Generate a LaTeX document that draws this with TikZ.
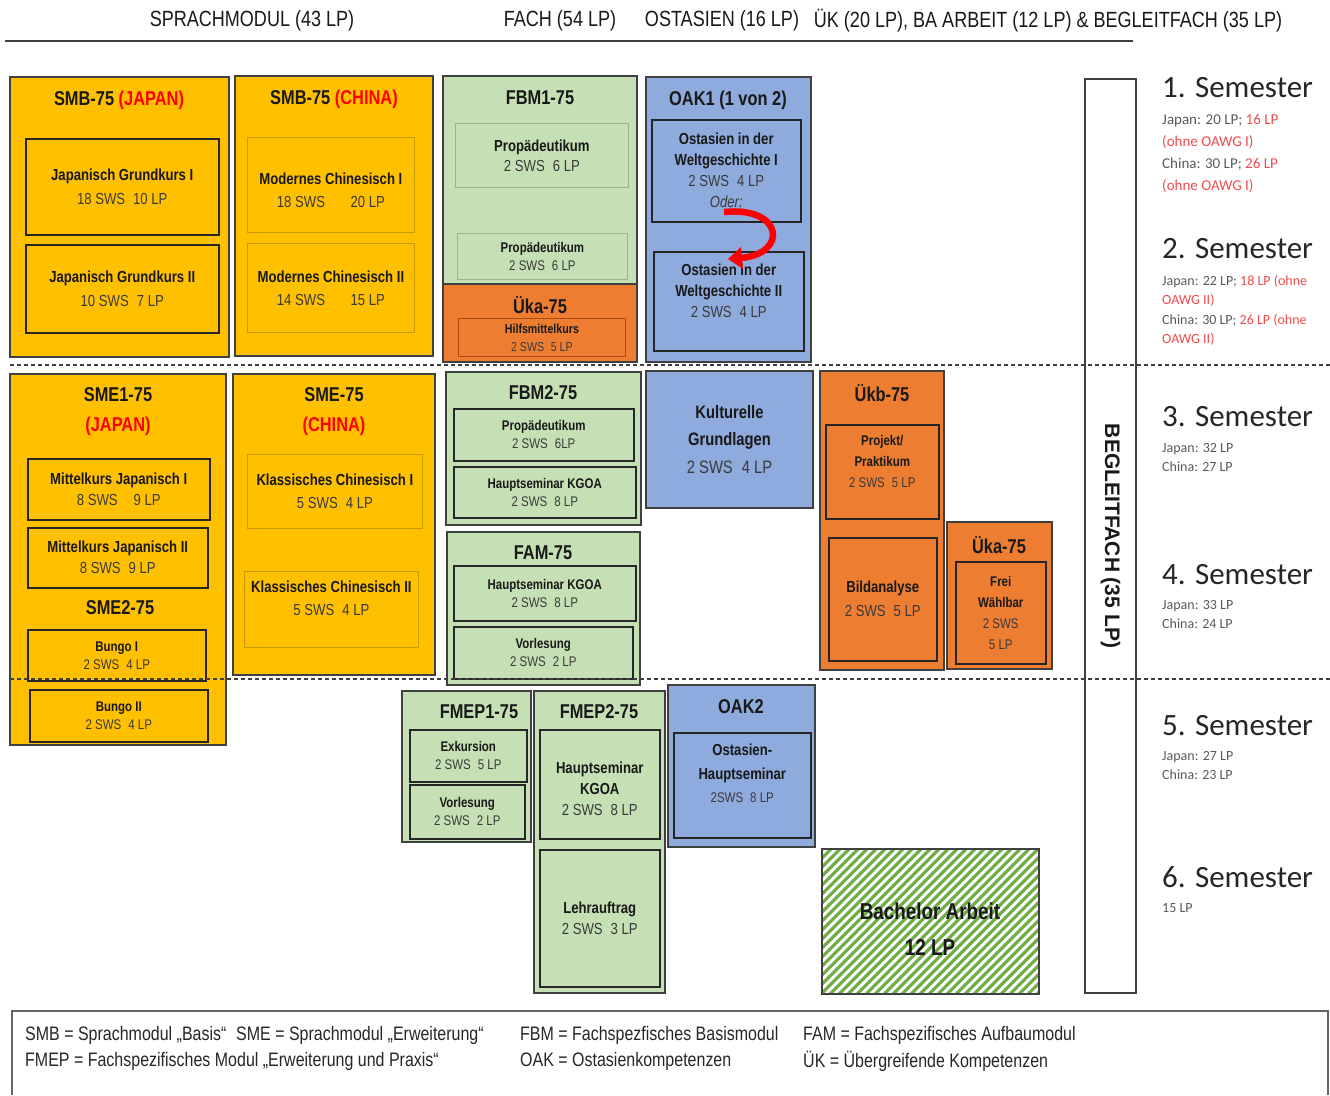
\documentclass[tikz,border=0pt]{standalone}
\usepackage{fontspec}
\setmainfont{Liberation Sans}[FakeStretch=0.82]
\newfontfamily\semfont{Carlito}
\newfontfamily\breitfont{Liberation Sans}
\usetikzlibrary{arrows.meta}

\definecolor{smgelb}{HTML}{FFC000}
\definecolor{fgruen}{HTML}{C5E0B4}
\definecolor{uorange}{HTML}{ED7D31}
\definecolor{oblau}{HTML}{8FAADC}
\definecolor{schraffgruen}{HTML}{70AD47}
\definecolor{rot}{HTML}{FF0000}
\definecolor{semrot}{HTML}{EE4B4B}
\definecolor{textgrau}{HTML}{3A3A3A}
\definecolor{semgrau}{HTML}{595959}
\definecolor{rahmen}{HTML}{404040}
\definecolor{gelbrand}{HTML}{C89B00}
\definecolor{gruenrand}{HTML}{97B585}
\definecolor{orangerand}{HTML}{A94A10}

\newcommand{\lp}[1]{{\color{textgrau}#1}}
\newcommand{\rt}[1]{\textcolor{semrot}{#1}}

\tikzset{
  kopf/.style={font=\fontsize{22}{26}\selectfont, inner sep=0pt, text=black!90},
  modul/.style={draw=rahmen, line width=1.5, anchor=north west, inner sep=0pt, outer sep=0pt},
  titel/.style={font=\fontsize{20}{30}\selectfont\bfseries, align=center, inner sep=0pt, text=black!90},
  kurs/.style={draw=black!85, line width=1.5, anchor=north west, inner sep=0pt, align=center, text=black!90, font=\fontsize{16}{21}\selectfont},
  kurs klein/.style={kurs, font=\fontsize{14}{18}\selectfont},
  kurs hell/.style={kurs, draw=gelbrand, line width=0.8},
  trenn/.style={draw=black!75, line width=1.2, dash pattern=on 4pt off 3pt},
  schraffur/.style={draw=schraffgruen, line width=3.2},
  semester/.style={anchor=west, inner sep=0pt, font=\semfont\fontsize{31}{36}\selectfont, text=black!85},
  seminfo/.style={anchor=north west, inner sep=0pt, align=left, font=\semfont\fontsize{15}{22}\selectfont, text=semgrau},
  seminfo klein/.style={seminfo, font=\semfont\fontsize{14}{19}\selectfont},
  legende/.style={anchor=west, inner sep=0pt, font=\fontsize{19.5}{22}\selectfont, text=black!85}
}

\begin{document}
\begin{tikzpicture}[x=1pt,y=-1pt]
\useasboundingbox (0,0) rectangle (1330,1095);

% Kopfzeile
\node[kopf] (kSprach) at (252,21) {SPRACHMODUL (43 LP)};
\node[kopf] (kFach) at (560,21) {FACH (54 LP)};
\node[kopf] (kOst) at (722,21) {OSTASIEN (16 LP)};
\node[kopf] (kUek) at (1048,21) {ÜK (20 LP), BA ARBEIT (12 LP) \& BEGLEITFACH (35 LP)};
\draw[line width=1.5, draw=rahmen] (5,41) -- (1133,41);

% Begleitfach
\node[modul, fill=white, minimum width=51, minimum height=914] (begleit) at (1085,79) {};
\node[rotate=-90, font=\breitfont\fontsize{21}{24}\selectfont\bfseries, text=black!90] (begleitT) at (begleit.center) {BEGLEITFACH (35 LP)};

% 1./2. Semester: Sprachmodul Basis
\node[modul, fill=smgelb, minimum width=219, minimum height=280] (smbJ) at (10,77) {};
\node[titel] (smbJt) at (119,100) {SMB-75 \textcolor{rot}{(JAPAN)}};
\node[kurs, minimum width=193, minimum height=96, font=\fontsize{16}{24}\selectfont] (jgk1) at (25,138) {\textbf{Japanisch Grundkurs I}\\\lp{18 SWS\enspace 10 LP}};
\node[kurs, minimum width=193, minimum height=88, font=\fontsize{16}{24}\selectfont] (jgk2) at (25,244) {\textbf{Japanisch Grundkurs II}\\\lp{10 SWS\enspace 7 LP}};

\node[modul, fill=smgelb, minimum width=198, minimum height=280] (smbC) at (235,76) {};
\node[titel] (smbCt) at (334,99) {SMB-75 \textcolor{rot}{(CHINA)}};
\node[kurs hell, minimum width=167, minimum height=95, font=\fontsize{16}{23}\selectfont] (mch1) at (247,137) {\mbox{}\\\textbf{Modernes Chinesisch I}\\\lp{18 SWS\hspace{1.6em}20 LP}};
\node[kurs hell, minimum width=167, minimum height=89, font=\fontsize{16}{23}\selectfont] (mch2) at (247,243) {\textbf{Modernes Chinesisch II}\\\lp{14 SWS\hspace{1.6em}15 LP}};

% Fachspezifisches Basismodul 1 und Hilfsmittelkurs
\node[modul, fill=fgruen, minimum width=194, minimum height=208] (fbm1) at (443,76) {};
\node[titel] (fbm1t) at (540,98) {FBM1-75};
\node[kurs, draw=gruenrand, line width=0.8, minimum width=173, minimum height=64, font=\fontsize{16}{20}\selectfont] (prop1) at (455,123) {\textbf{Propädeutikum}\\\lp{2 SWS\enspace 6 LP}};
\node[kurs klein, draw=gruenrand, line width=0.8, minimum width=170, minimum height=46] (prop2) at (457,233) {\textbf{Propädeutikum}\\\lp{2 SWS\enspace 6 LP}};

\node[modul, fill=uorange, minimum width=194, minimum height=78] (uka1) at (443,284) {};
\node[titel] (uka1t) at (540,305) {Üka-75};
\node[kurs, draw=orangerand, line width=0.8, minimum width=167, minimum height=38, font=\fontsize{13}{18}\selectfont] (hilfs) at (458,318) {\textbf{Hilfsmittelkurs}\\\lp{2 SWS\enspace 5 LP}};

% Ostasienkompetenzen 1
\node[modul, fill=oblau, minimum width=165, minimum height=285] (oak1) at (646,77) {};
\node[titel] (oak1t) at (728,100) {OAK1 (1 von 2)};
\node[kurs, minimum width=149, minimum height=102] (owg1) at (651,119) {\textbf{Ostasien in der}\\\textbf{Weltgeschichte I}\\\lp{2 SWS\enspace 4 LP}\\\lp{\itshape Oder:}};
\node[kurs, minimum width=150, minimum height=99] (owg2) at (653,251) {\textbf{Ostasien in der}\\\textbf{Weltgeschichte II}\\\lp{2 SWS\enspace 4 LP}\\\mbox{}};
\coordinate (oderA) at (724,212);
\coordinate (oderB) at (728,259);
\draw[draw=rot, line width=6.5, -{Triangle[length=14,width=21]}] (oderA) .. controls (784,206) and (788,254) .. (oderB);

% 3./4. Semester: Sprachmodul Erweiterung
\node[modul, fill=smgelb, minimum width=216, minimum height=371] (sme1) at (10,374) {};
\node[titel] (sme1t) at (118,412) {SME1-75\\\textcolor{rot}{(JAPAN)}};
\node[kurs, minimum width=182, minimum height=61] (mkj1) at (27,458) {\textbf{Mittelkurs Japanisch I}\\\lp{8 SWS\enspace\enspace 9 LP}};
\node[kurs, minimum width=180, minimum height=60] (mkj2) at (27,527) {\textbf{Mittelkurs Japanisch II}\\\lp{8 SWS\enspace 9 LP}};
\node[titel] (sme2t) at (120,608) {SME2-75};
\node[kurs klein, minimum width=178, minimum height=51] (bungo1) at (27,629) {\textbf{Bungo I}\\\lp{2 SWS\enspace 4 LP}};
\node[kurs klein, minimum width=178, minimum height=52] (bungo2) at (29,689) {\textbf{Bungo II}\\\lp{2 SWS\enspace 4 LP}};

\node[modul, fill=smgelb, minimum width=202, minimum height=301] (smeC) at (233,374) {};
\node[titel] (smeCt) at (334,412) {SME-75\\\textcolor{rot}{(CHINA)}};
\node[kurs hell, minimum width=175, minimum height=74, font=\fontsize{16}{23}\selectfont] (kch1) at (247,454) {\textbf{Klassisches Chinesisch I}\\\lp{5 SWS\enspace 4 LP}};
\node[kurs hell, minimum width=174, minimum height=76, font=\fontsize{16}{23}\selectfont] (kch2) at (244,571) {\textbf{Klassisches Chinesisch II}\\\lp{5 SWS\enspace 4 LP}\\\mbox{}};

% Fach: Basismodul 2 und Aufbaumodul
\node[modul, fill=fgruen, minimum width=195, minimum height=153] (fbm2) at (446,372) {};
\node[titel] (fbm2t) at (543,393) {FBM2-75};
\node[kurs klein, minimum width=180, minimum height=52] (prop3) at (453,408) {\textbf{Propädeutikum}\\\lp{2 SWS\enspace 6LP}};
\node[kurs klein, minimum width=182, minimum height=51] (hskgoa1) at (453,466) {\textbf{Hauptseminar KGOA}\\\lp{2 SWS\enspace 8 LP}};

\node[modul, fill=fgruen, minimum width=193, minimum height=153] (fam) at (447,532) {};
\node[titel] (famt) at (543,553) {FAM-75};
\node[kurs klein, minimum width=182, minimum height=55] (hskgoa2) at (453,565) {\textbf{Hauptseminar KGOA}\\\lp{2 SWS\enspace 8 LP}};
\node[kurs klein, minimum width=179, minimum height=52] (vorl1) at (453,626) {\textbf{Vorlesung}\\\lp{2 SWS\enspace 2 LP}};

% Kulturelle Grundlagen
\node[modul, fill=oblau, minimum width=167, minimum height=137, align=center, font=\fontsize{18}{27.5}\selectfont, text=black!90] (kultur) at (646,371) {\textbf{Kulturelle}\\\textbf{Grundlagen}\\\lp{2 SWS\enspace 4 LP}};

% Übergreifende Kompetenzen
\node[modul, fill=uorange, minimum width=124, minimum height=299] (ukb) at (820,371) {};
\node[titel] (ukbt) at (882,393) {Ükb-75};
\node[kurs, minimum width=113, minimum height=94, font=\fontsize{14}{21}\selectfont] (projekt) at (825,424) {\textbf{Projekt/}\\\textbf{Praktikum}\\\lp{2 SWS\enspace 5 LP}\\\mbox{}};
\node[kurs, minimum width=108, minimum height=123, font=\fontsize{16}{24}\selectfont] (bild) at (828,537) {\textbf{Bildanalyse}\\\lp{2 SWS\enspace 5 LP}};

\node[modul, fill=uorange, minimum width=105, minimum height=147] (uka2) at (947,522) {};
\node[titel] (uka2t) at (999,545) {Üka-75};
\node[kurs, minimum width=90, minimum height=102, font=\fontsize{14}{21}\selectfont] (frei) at (955,561) {\textbf{Frei}\\\textbf{Wählbar}\\\lp{2 SWS}\\\lp{5 LP}};

% 5./6. Semester
\node[modul, fill=fgruen, minimum width=129, minimum height=151] (fmep1) at (402,691) {};
\node[titel] (fmep1t) at (479,712) {FMEP1-75};
\node[kurs klein, minimum width=117, minimum height=52] (exk) at (409,729) {\textbf{Exkursion}\\\lp{2 SWS\enspace 5 LP}};
\node[kurs klein, minimum width=115, minimum height=54] (vorl2) at (409,784) {\textbf{Vorlesung}\\\lp{2 SWS\enspace 2 LP}};

\node[modul, fill=fgruen, minimum width=131, minimum height=302] (fmep2) at (534,691) {};
\node[titel] (fmep2t) at (599,712) {FMEP2-75};
\node[kurs, minimum width=120, minimum height=109] (hskgoa3) at (539,729) {\mbox{}\\\textbf{Hauptseminar}\\\textbf{KGOA}\\\lp{2 SWS\enspace 8 LP}};
\node[kurs, minimum width=120, minimum height=137] (lehr) at (539,849) {\textbf{Lehrauftrag}\\\lp{2 SWS\enspace 3 LP}};

\node[modul, fill=oblau, minimum width=147, minimum height=162] (oak2) at (668,685) {};
\node[titel] (oak2t) at (741,707) {OAK2};
\node[kurs, minimum width=137, minimum height=105, font=\fontsize{16}{23.5}\selectfont] (oahs) at (673,732) {\textbf{Ostasien-}\\\textbf{Hauptseminar}\\\lp{\fontsize{14}{23.5}\selectfont 2SWS\enspace 8 LP}\\\mbox{}};

% Bachelor Arbeit
\begin{scope}
\clip (822,849) rectangle (1039,994);
\foreach \s in {0,9,...,369}
  \draw[schraffur] (677+\s,994) -- ++(145,-145);
\end{scope}
\node[modul, line width=1.2, minimum width=217, minimum height=145] (ba) at (822,849) {};
\node[font=\fontsize{23}{36}\selectfont\bfseries, align=center, text=black!90] (baT) at (930,929) {Bachelor Arbeit\\12 LP};

% Semesterlinien
\draw[trenn] (10,365) -- (1330,365);
\draw[trenn] (10,679) -- (1330,679);

% Semesterangaben
\node[semester] (sem1) at (1162,88) {1. Semester};
\node[seminfo] (sem1i) at (1162,114) {Japan: 20 LP; \rt{16 LP}\\\rt{(ohne OAWG I)}\\China: 30 LP; \rt{26 LP}\\\rt{(ohne OAWG I)}};
\node[semester] (sem2) at (1162,249) {2. Semester};
\node[seminfo, font=\semfont\fontsize{14}{19.5}\selectfont] (sem2i) at (1162,275) {Japan: 22 LP; \rt{18 LP (ohne}\\\rt{OAWG II)}\\China: 30 LP; \rt{26 LP (ohne}\\\rt{OAWG II)}};
\node[semester] (sem3) at (1162,417) {3. Semester};
\node[seminfo klein] (sem3i) at (1162,443) {Japan: 32 LP\\China: 27 LP};
\node[semester] (sem4) at (1162,575) {4. Semester};
\node[seminfo klein] (sem4i) at (1162,600) {Japan: 33 LP\\China: 24 LP};
\node[semester] (sem5) at (1162,726) {5. Semester};
\node[seminfo klein] (sem5i) at (1162,751) {Japan: 27 LP\\China: 23 LP};
\node[semester] (sem6) at (1162,877) {6. Semester};
\node[seminfo klein] (sem6i) at (1162,903) {15 LP};

% Legende
\draw[line width=2, draw=black!60] (12,1095) |- (1328,1011) -- (1328,1095);
\node[legende] (leg1) at (25,1035) {SMB = Sprachmodul „Basis“\enspace SME = Sprachmodul „Erweiterung“};
\node[legende] (leg2) at (520,1035) {FBM = Fachspezfisches Basismodul};
\node[legende] (leg3) at (803,1035) {FAM = Fachspezifisches Aufbaumodul};
\node[legende] (leg4) at (25,1061) {FMEP = Fachspezifisches Modul „Erweiterung und Praxis“};
\node[legende] (leg5) at (520,1061) {OAK = Ostasienkompetenzen};
\node[legende] (leg6) at (803,1061) {ÜK = Übergreifende Kompetenzen};

\end{tikzpicture}
\end{document}
